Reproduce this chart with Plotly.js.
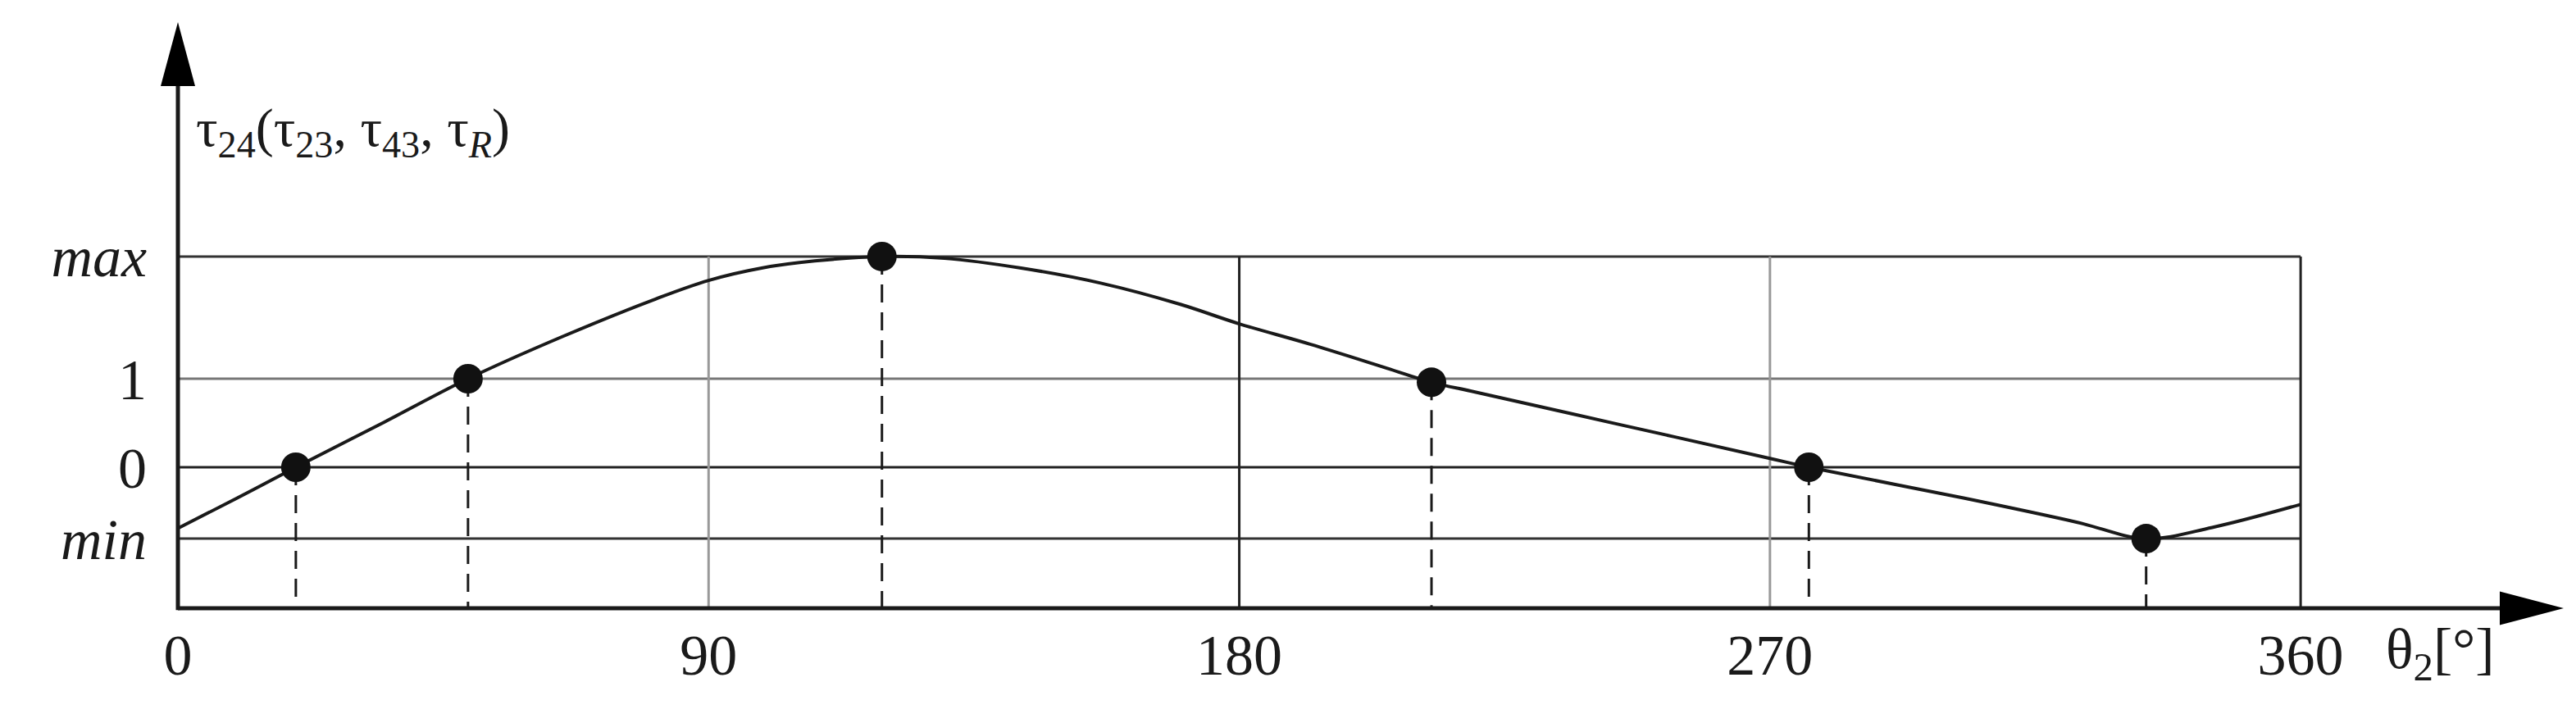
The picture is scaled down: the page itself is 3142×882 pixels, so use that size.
<!DOCTYPE html>
<html>
<head>
<meta charset="utf-8">
<script src="https://cdn.plot.ly/plotly-3.0.1.min.js"></script>
<style>
  html, body {margin: 0; padding: 0; background: white;}
  #chart {width: 3142px; height: 882px;}
</style>
</head>
<body>
<div id="chart"></div>
<script>
// curve: theta2 in degrees, tau on the arbitrary level scale
const curveDeg = [0, 10, 20, 35, 49.2, 65, 81, 90, 99, 108, 119.4, 130, 143, 156.5, 170, 180, 192, 205, 212.6, 220, 244, 270, 276.6, 303, 322, 333.8, 345, 360];
const curveVal = [-0.69, -0.35, 0, 0.51, 1, 1.47, 1.90, 2.11, 2.25, 2.33, 2.38, 2.36, 2.25, 2.08, 1.84, 1.62, 1.39, 1.12, 0.96, 0.85, 0.49, 0.10, 0, -0.35, -0.62, -0.806, -0.68, -0.42];

// marked points
const keyDeg = [20, 49.2, 119.4, 212.6, 276.6, 333.8];
const keyVal = [0, 1, 2.38, 0.96, 0, -0.806];

// levels on the vertical axis
const levelVals = [2.38, 1, 0, -0.806];
const levelText = ['<i>max</i>', '1', '0', '<i>min</i>'];
const levelColors = ['#333', '#777', '#222', '#333'];

// angle ticks and vertical grid
const xTicks = [0, 90, 180, 270, 360];
const gridDeg = [90, 180, 270, 360];
const gridColors = ['#999', '#222', '#999', '#222'];

(function(){
    const W = 3142, H = 882;
    const x0px = 217, y0px = 570;     // pixel of theta=0 and tau=0
    const degPx = 7.192, unitPx = 108;
    const xRange = [-x0px / degPx, (W - x0px) / degPx];
    const yRange = [-(H - y0px) / unitPx, y0px / unitPx];
    const axisY = -(742 - y0px) / unitPx;
    const yTop = levelVals[0];
    const ink = '#1a1a1a';
    const serif = '"Liberation Serif", "Times New Roman", serif';

    // drop lines from each point to the angle axis
    const dropX = [], dropY = [];
    keyDeg.forEach((d, i) => { dropX.push(d, d, null); dropY.push(keyVal[i], axisY, null); });

    const data = [
        {
            x: dropX, y: dropY, mode: 'lines', hoverinfo: 'skip',
            line: {color: ink, width: 3, dash: '22px,12px'}
        },
        {
            x: curveDeg, y: curveVal, mode: 'lines',
            line: {color: ink, width: 4, shape: 'spline', smoothing: 1}
        },
        {
            x: keyDeg, y: keyVal, mode: 'markers',
            marker: {color: '#111', size: 36}
        }
    ];

    const shapes = [];
    levelVals.forEach((v, i) => shapes.push({
        type: 'line', layer: 'below', x0: 0, x1: 360, y0: v, y1: v,
        line: {color: levelColors[i], width: 3}
    }));
    gridDeg.forEach((d, i) => shapes.push({
        type: 'line', layer: 'below', x0: d, x1: d, y0: axisY, y1: yTop,
        line: {color: gridColors[i], width: 3}
    }));
    // axes with arrowheads
    const yTip = (y0px - 27) / unitPx, yBase = (y0px - 105) / unitPx, yHalf = 21 / degPx;
    const xTip = (3127 - x0px) / degPx, xBase = (3049 - x0px) / degPx, xHalf = 20.5 / unitPx;
    shapes.push({type: 'line', x0: 0, x1: 0, y0: axisY - 0.02, y1: yBase, line: {color: ink, width: 5}});
    shapes.push({type: 'line', x0: 0, x1: xBase, y0: axisY, y1: axisY, line: {color: ink, width: 5}});
    shapes.push({type: 'path', path: `M0,${yTip} L${-yHalf},${yBase} L${yHalf},${yBase} Z`,
        fillcolor: '#000', line: {width: 0}});
    shapes.push({type: 'path', path: `M${xTip},${axisY} L${xBase},${axisY + xHalf} L${xBase},${axisY - xHalf} Z`,
        fillcolor: '#000', line: {width: 0}});

    const layout = {
        width: W, height: H,
        margin: {l: 0, r: 0, t: 0, b: 0},
        paper_bgcolor: 'white', plot_bgcolor: 'white',
        showlegend: false,
        font: {family: serif, color: ink},
        xaxis: {
            range: xRange, anchor: 'free', position: (H - 742) / H,
            showgrid: false, zeroline: false, showline: false, ticks: '',
            tickvals: xTicks, ticktext: xTicks.map(String),
            tickfont: {family: serif, size: 70, color: ink}, ticklabelstandoff: 10
        },
        yaxis: {
            range: yRange, anchor: 'free', position: x0px / W,
            showgrid: false, zeroline: false, showline: false, ticks: '',
            tickvals: levelVals, ticktext: levelText,
            tickfont: {family: serif, size: 70, color: ink}, ticklabelstandoff: 38
        },
        shapes: shapes,
        annotations: [
            {
                x: 0, y: (y0px - 160) / unitPx, xref: 'x', yref: 'y', xanchor: 'left', yanchor: 'middle',
                xshift: 20, showarrow: false,
                text: 'τ<sub>24</sub>(τ<sub>23</sub>, τ<sub>43</sub>, τ<sub><i>R</i></sub>)',
                font: {family: serif, size: 66, color: ink}
            },
            {
                x: (2908 - x0px) / degPx, y: (y0px - 797) / unitPx, xref: 'x', yref: 'y',
                xanchor: 'left', yanchor: 'middle', showarrow: false,
                text: 'θ<sub>2</sub>[°]',
                font: {family: serif, size: 70, color: ink}
            }
        ]
    };

    Plotly.newPlot('chart', data, layout, {displayModeBar: false, staticPlot: true});
})();
</script>
</body>
</html>
